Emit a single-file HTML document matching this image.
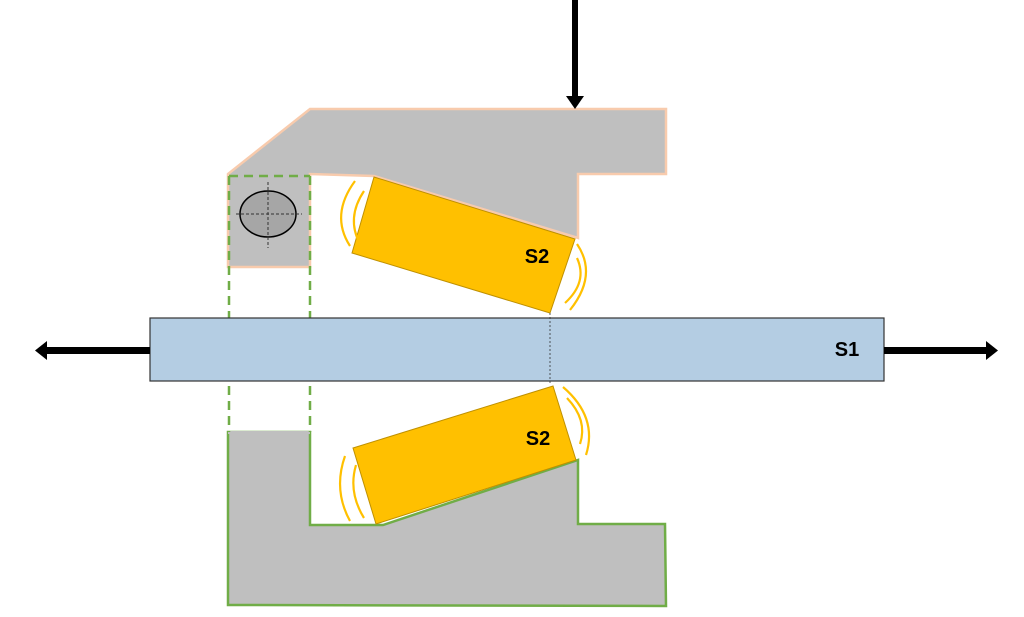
<!DOCTYPE html>
<html><head><style>html,body{margin:0;padding:0;background:#fff;width:1024px;height:617px;overflow:hidden}</style></head>
<body>
<svg width="1024" height="617" viewBox="0 0 1024 617" xmlns="http://www.w3.org/2000/svg" font-family="Liberation Sans, sans-serif">
<!-- top gray block -->
<polygon points="228,174 310,109 666,109 666,174 578,174 578,238 374,176 310,174 310,267 228,267" fill="#bfbfbf" stroke="#f8cbad" stroke-width="2.5"/>
<!-- ellipse -->
<ellipse cx="268" cy="214" rx="28" ry="23" fill="#a6a6a6" stroke="#000" stroke-width="1.5"/>
<line x1="236" y1="214" x2="302" y2="214" stroke="#333" stroke-width="1" stroke-dasharray="3,2"/>
<line x1="268" y1="182" x2="268" y2="248" stroke="#333" stroke-width="1" stroke-dasharray="3,2"/>
<!-- top roller -->
<polygon points="374,177 575,239 550,313 352,253" fill="#ffc000" stroke="#bf9000" stroke-width="1"/>
<text x="537" y="263" font-size="20" font-weight="bold" text-anchor="middle" fill="#000">S2</text>
<!-- bottom gray block -->
<polygon points="228,432 310,432 310,525 383,525 578,460 578,524 665,524 666,606 228,605" fill="#bfbfbf" stroke="#70ad47" stroke-width="2.5"/>
<rect x="228" y="431" width="82" height="3" fill="#bfbfbf"/>
<!-- bottom roller -->
<polygon points="353,448 553,386 576,460 376,524" fill="#ffc000" stroke="#bf9000" stroke-width="1"/>
<text x="538" y="445" font-size="20" font-weight="bold" text-anchor="middle" fill="#000">S2</text>
<!-- dashed green box -->
<path d="M229,176 H310 M229,176 V432 M310,176 V432" fill="none" stroke="#70ad47" stroke-width="2.5" stroke-dasharray="9,6"/>
<!-- shaft -->
<rect x="150" y="318" width="734" height="63" fill="#b4cde3" stroke="#333" stroke-width="1.2"/>
<line x1="550" y1="313" x2="550" y2="385" stroke="#333" stroke-width="0.8" stroke-dasharray="2,2"/>
<text x="847" y="356" font-size="20" font-weight="bold" text-anchor="middle" fill="#000">S1</text>
<!-- arrows -->
<rect x="572" y="0" width="6" height="98" fill="#000"/>
<polygon points="566,96 584,96 575,109" fill="#000"/>
<rect x="46" y="347" width="104" height="7" fill="#000"/>
<polygon points="47,341 47,360 35,350.5" fill="#000"/>
<rect x="884" y="347" width="104" height="7" fill="#000"/>
<polygon points="986,341 986,360 998,350.5" fill="#000"/>
<!-- vibration arcs -->
<g fill="none" stroke="#ffc000" stroke-width="2.2">
<path d="M355,181 Q330,215 350,246"/>
<path d="M364,191 Q346,218 360,244"/>
<path d="M577,244 Q598,275 570,310"/>
<path d="M577,258 Q588,282 565,303"/>
<path d="M563,387 Q598,417 586,455"/>
<path d="M567,398 Q588,420 580,444"/>
<path d="M345,456 Q333,490 350,521"/>
<path d="M356,465 Q348,492 364,518"/>
</g>
</svg>
</body></html>
